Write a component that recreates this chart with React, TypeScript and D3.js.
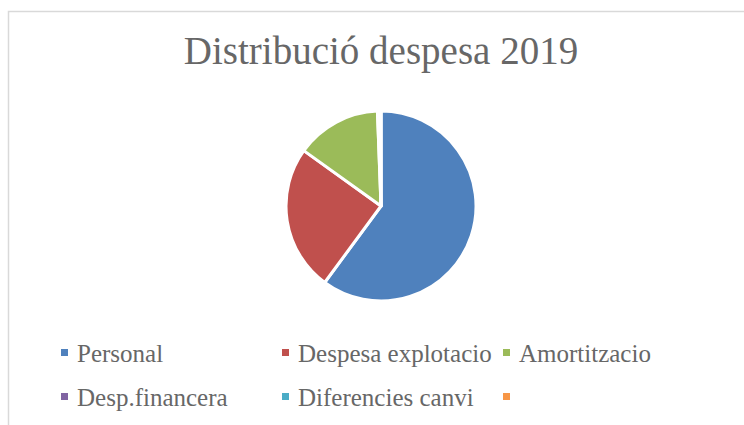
import * as d3 from "d3";

const categories = [
  "Personal",
  "Despesa explotacio",
  "Amortitzacio",
  "Desp.financera",
  "Diferencies canvi",
  "",
];
const values = [60.1, 24.8, 14.5, 0.5, 0.1, 0];
const colors = ["#4f81bd", "#c0504d", "#9bbb59", "#8064a2", "#4bacc6", "#f79646"];
const title = "Distribució despesa 2019";

export default function App() {
  const width = 744;
  const height = 425;
  const cx = 381;
  const cy = 206;
  const radius = 95;
  const font = "'Liberation Serif', 'Times New Roman', serif";
  const textColor = "#676767";

  const pie = d3
    .pie<number>()
    .sort(null)
    .value((d) => d);
  const arcs = pie(values);
  const arc = d3.arc<d3.PieArcDatum<number>>().innerRadius(0).outerRadius(radius);

  // legend grid: 3 equal columns
  const legendX = d3.scaleLinear().domain([0, 1]).range([61, 282]);
  const legendY = d3.scaleLinear().domain([0, 1]).range([362, 406]);

  return (
    <svg
      width={width}
      height={height}
      style={{ position: "absolute", left: 0, top: 0, background: "#fff" }}
    >
      <rect
        x={8.5}
        y={11.5}
        width={width}
        height={height}
        fill="#fff"
        stroke="#d9d9d9"
        strokeWidth={1.5}
      />
      <text
        x={cx}
        y={64}
        textAnchor="middle"
        fontFamily={font}
        fontSize={39}
        fill={textColor}
      >
        {title}
      </text>
      <g transform={`translate(${cx},${cy})`}>
        {arcs.map((a, i) => (
          <path
            key={i}
            d={arc(a) || ""}
            fill={colors[i]}
            stroke="#fff"
            strokeWidth={3}
            strokeLinejoin="round"
          />
        ))}
      </g>
      <g>
        {categories.map((c, i) => {
          const col = i % 3;
          const row = Math.floor(i / 3);
          const x = legendX(col);
          const y = legendY(row);
          return (
            <g key={i}>
              <rect x={x} y={y - 13} width={7} height={7} fill={colors[i]} />
              <text
                x={x + 16}
                y={y}
                fontFamily={font}
                fontSize={25}
                fill={textColor}
              >
                {c}
              </text>
            </g>
          );
        })}
      </g>
    </svg>
  );
}
